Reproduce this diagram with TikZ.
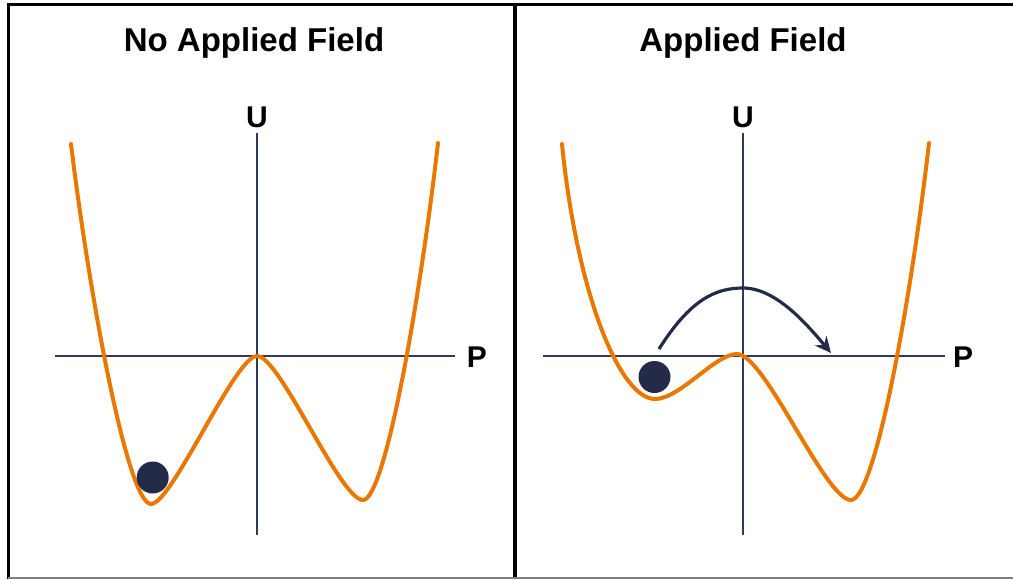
\documentclass[tikz,border=0pt]{standalone}
\usepackage{fontspec}
\setmainfont{Liberation Sans}
\usetikzlibrary{arrows.meta}
\definecolor{curveor}{HTML}{E87800}
\definecolor{navy}{HTML}{232B48}
\definecolor{axiscol}{HTML}{2F3A56}
\tikzset{
  frameline/.style={line width=3.5pt,black},
  axisline/.style={line width=2pt,axiscol},
  energy/.style={line width=4pt,curveor,line cap=round,line join=round},
  ball/.style={circle,fill=navy,draw=none,minimum size=32pt,inner sep=0pt},
  titletext/.style={font=\bfseries\fontsize{33}{38}\selectfont,inner sep=0pt},
  axlabel/.style={font=\bfseries\fontsize{30}{34}\selectfont,inner sep=0pt},
  hop/.style={line width=3.2pt,navy,-{Stealth[length=16pt,width=15pt]}}
}
\begin{document}
\begin{tikzpicture}[x=1pt,y=-1pt]
\useasboundingbox (0,0) rectangle (1013,579);
% frame
\draw[frameline] (8.5,579) -- (8.5,4.5) -- (1013,4.5);
\draw[frameline] (515,4.5) -- (515,579);
\draw[line width=2pt,gray] (8,578) -- (1013,578);
% titles
\node[titletext] (t1) at (254,43) {No Applied Field};
\node[titletext] (t2) at (743,43) {Applied Field};
% left axes
\coordinate (lvtop) at (257,133);
\coordinate (lvbot) at (257,535);
\coordinate (lhl) at (55,356);
\coordinate (lhr) at (455,356);
\draw[axisline] (lvtop) -- (lvbot);
\draw[axisline] (lhl) -- (lhr);
\node[axlabel] (lu) at (257,117) {U};
\node[axlabel] (lp) at (477,357) {P};
% right axes
\coordinate (rvtop) at (743,133);
\coordinate (rvbot) at (743,535);
\coordinate (rhl) at (543,356);
\coordinate (rhr) at (945,356);
\draw[axisline] (rvtop) -- (rvbot);
\draw[axisline] (rhl) -- (rhr);
\node[axlabel] (ru) at (743,117) {U};
\node[axlabel] (rp) at (963,357) {P};
% left energy curve (symmetric double well)
\draw[energy] (71,144) .. controls (90,300) and (128,504) .. (151,504)
  .. controls (172,504) and (235,356) .. (257,356)
  .. controls (280,356) and (340,500) .. (363,500)
  .. controls (385,500) and (420,300) .. (438,143);
% right energy curve (tilted double well)
\draw[energy] (562,144) .. controls (577,294) and (620,399) .. (655,399)
  .. controls (680,399) and (715,354) .. (737,354)
  .. controls (765,354) and (825,500) .. (851,500)
  .. controls (875,500) and (911,300) .. (929,143);
% balls
\node[ball] (b1) at (152.7,477.5) {};
\node[ball] (b2) at (654.5,377) {};
% hop arrow
\coordinate (hs) at (659,349);
\coordinate (hm) at (743,288);
\coordinate (he) at (831,353);
\draw[hop] (hs) .. controls (690,300) and (715,288) .. (hm)
  .. controls (775,288) and (805,322) .. (he);
\end{tikzpicture}
\end{document}
